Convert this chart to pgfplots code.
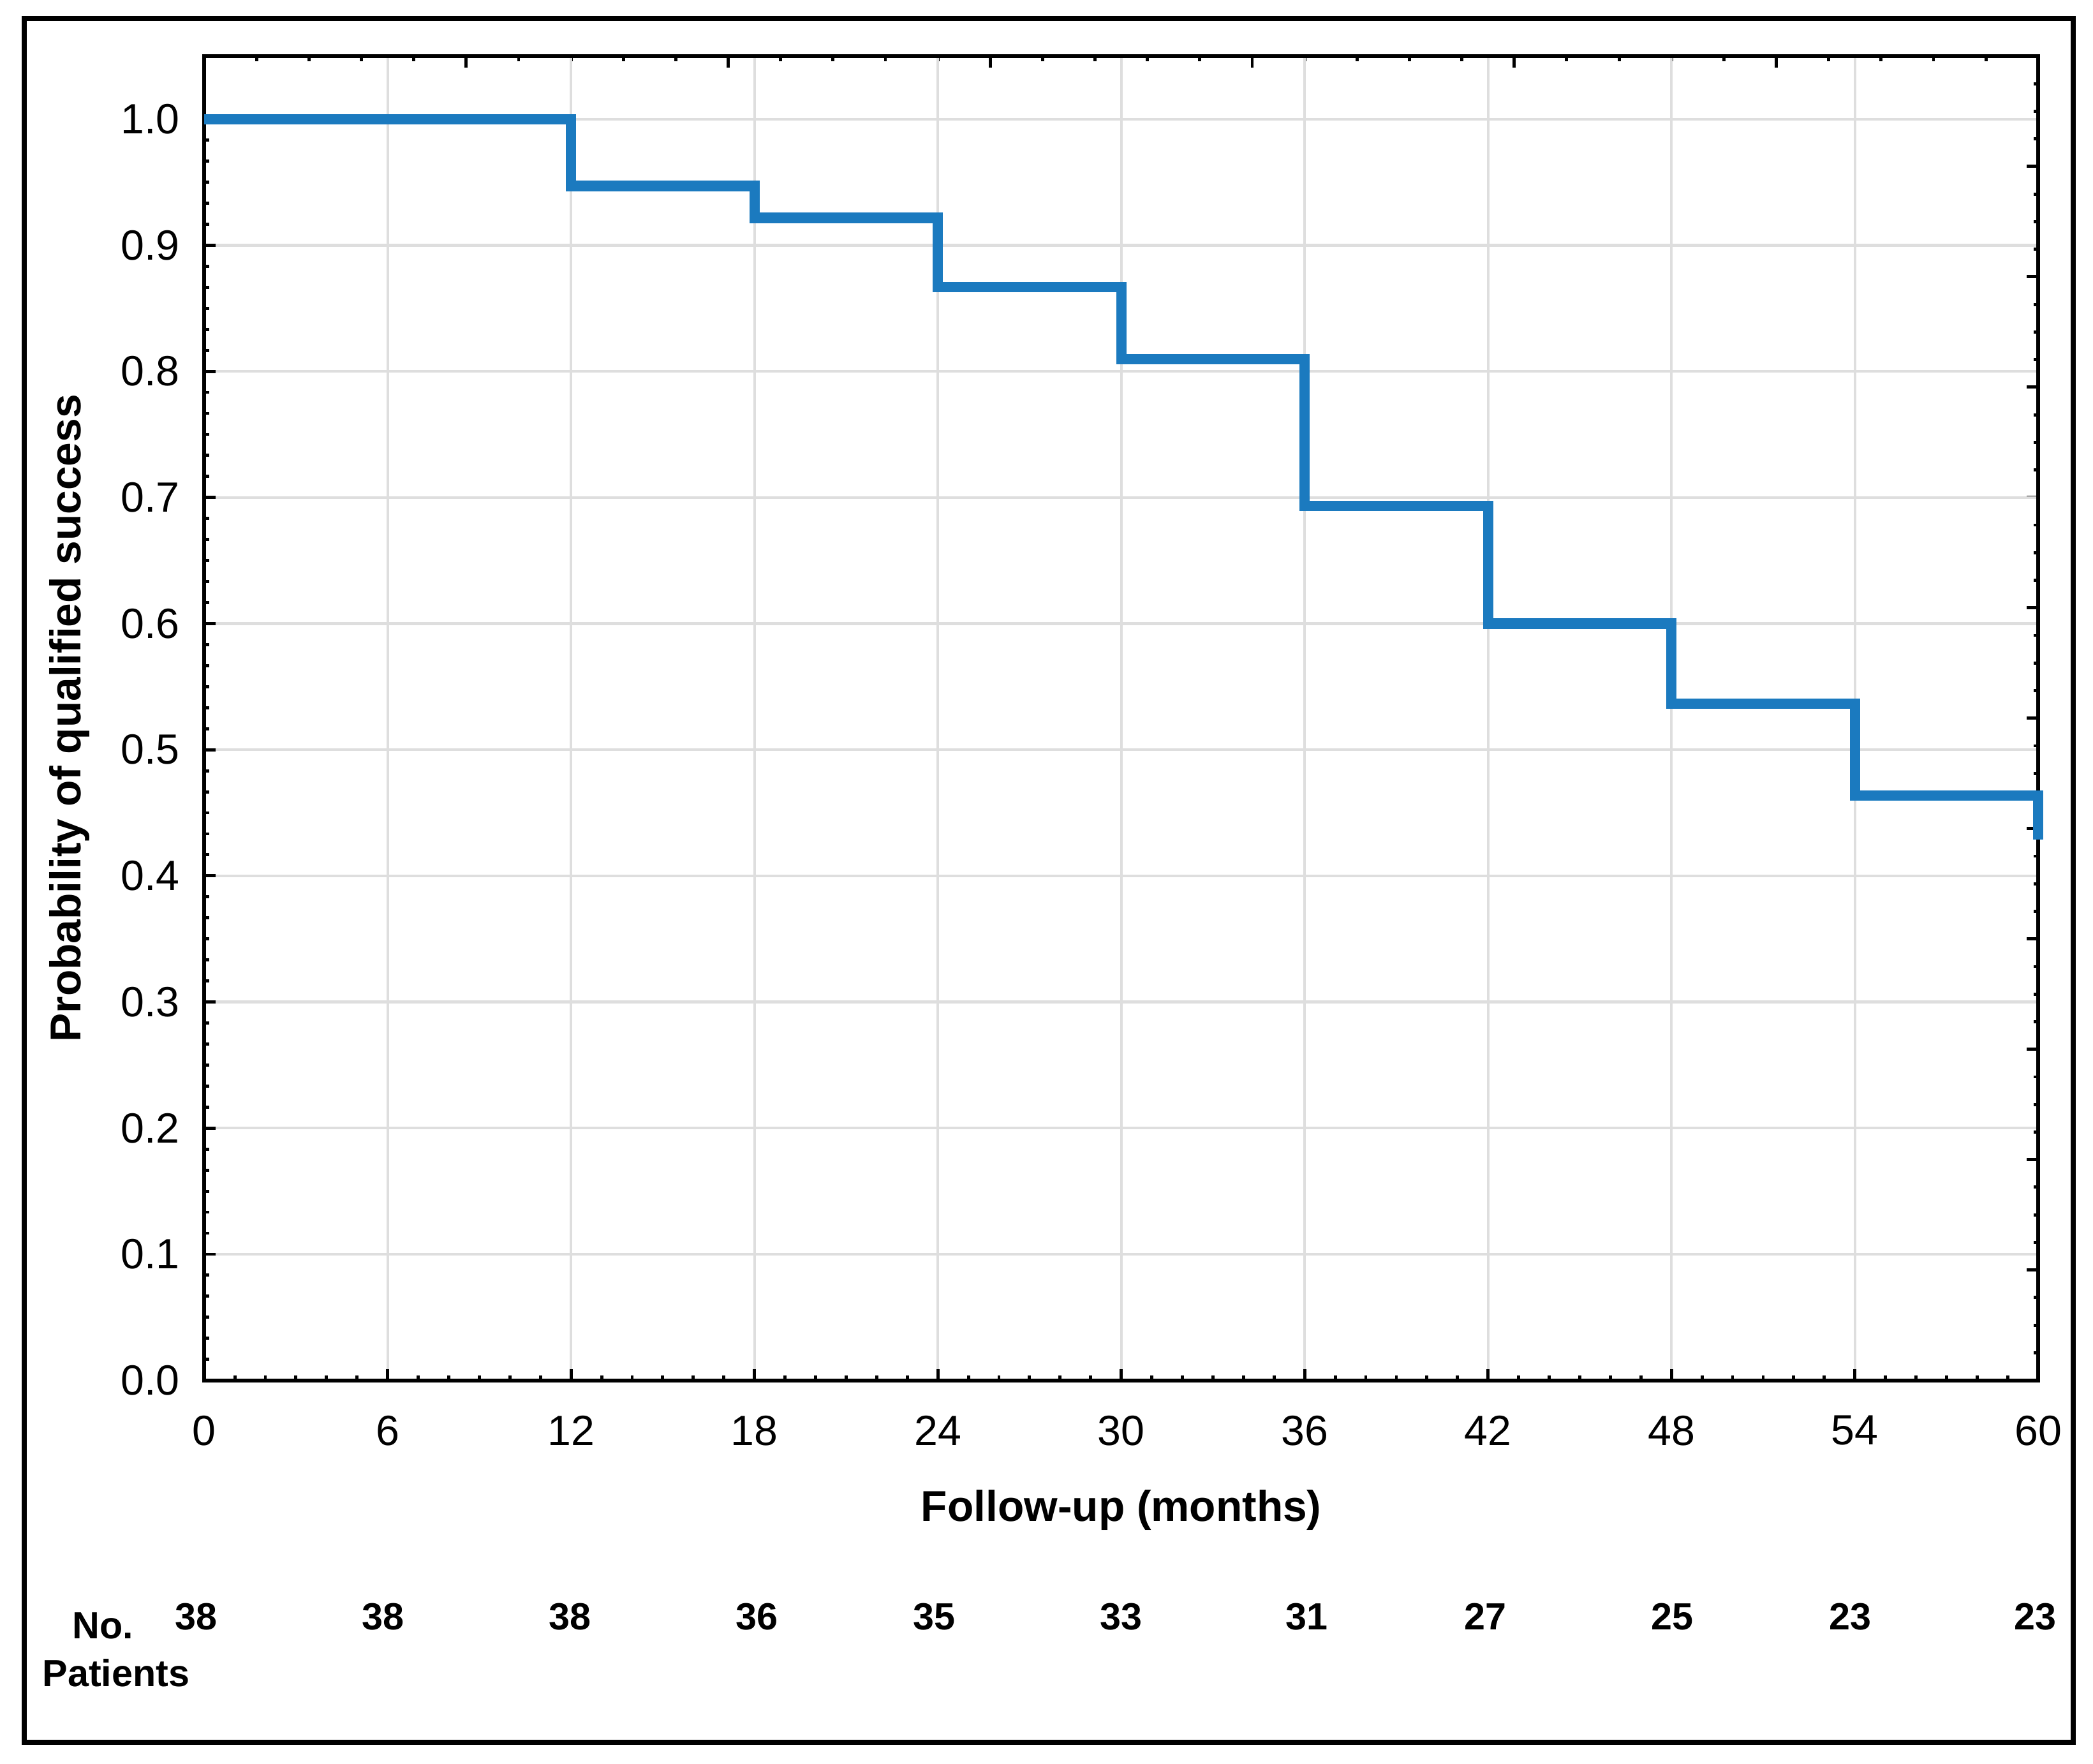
\documentclass[border=0pt]{standalone}
\usepackage{pgfplots}
\pgfplotsset{compat=1.18}
\usepackage{fontspec}
\setmainfont{Liberation Sans}
\definecolor{kmblue}{RGB}{27,122,191}
\definecolor{gridgray}{RGB}{222,222,222}
\begin{document}
\begin{tikzpicture}
\path[use as bounding box] (-45.9pt,-86.1pt) rectangle (424.5pt,310.2pt);
\draw[line width=1.1pt] (-40.5pt,-81.3pt) rectangle (420pt,306pt);
% secondary tick marks on top and right
\begin{axis}[
  at={(0,0)}, anchor=south west,
  scale only axis, width=412.2pt, height=297.6pt,
  xmin=0, xmax=7, ymin=0, ymax=12,
  xtick={0,1,2,3,4,5,6,7}, ytick={0,1,2,3,4,5,6,7,8,9,10,11,12},
  minor x tick num=4, minor y tick num=3,
  xtick pos=right, ytick pos=right,
  xticklabels={}, yticklabels={},
  tick align=inside,
  major tick length=2.6pt, minor tick length=1.1pt,
  every tick/.style={black, line width=0.7pt},
  axis line style={draw=none},
]
\end{axis}
\begin{axis}[
  at={(0,0)}, anchor=south west,
  scale only axis, width=412.2pt, height=297.6pt,
  xmin=0, xmax=60, ymin=0, ymax=1.05,
  clip=false,
  xtick={0,6,12,18,24,30,36,42,48,54,60},
  ytick={0,0.1,0.2,0.3,0.4,0.5,0.6,0.7,0.8,0.9,1.0},
  minor x tick num=5, minor y tick num=5,
  xtick pos=left, ytick pos=left,
  tick align=inside,
  major tick length=2.6pt, minor tick length=1.1pt,
  every tick/.style={black, line width=0.7pt},
  axis line style={black, line width=0.9pt},
  grid=major,
  major grid style={gridgray, line width=0.6pt},
  /pgf/number format/assume math mode=true,
  tick label style={font=\fontsize{9.5}{11}\selectfont, black},
  y tick label style={/pgf/number format/fixed, /pgf/number format/fixed zerofill, /pgf/number format/precision=1, xshift=-2pt},
  x tick label style={yshift=-4.4pt},
  xlabel={Follow-up (months)},
  ylabel={Probability of qualified success},
  xlabel style={at={(axis description cs:0.5,0)}, anchor=center, yshift=-29.1pt, font=\bfseries\fontsize{9.7}{11}\selectfont},
  ylabel style={at={(axis description cs:0,0.5)}, anchor=center, yshift=30.3pt, font=\bfseries\fontsize{9.7}{11}\selectfont},
]
\addplot[const plot, kmblue, line width=2.3pt] coordinates {
  (0,1.0) (12,0.947) (18,0.9217) (24,0.8667) (30,0.8095)
  (36,0.6931) (42,0.600) (48,0.5365) (54,0.4635) (60,0.4286)
};
\addplot[only marks, mark=*, mark size=0pt, mark options={draw=none,fill=none},
  nodes near coords, point meta=explicit symbolic,
  every node near coord/.style={anchor=center, inner sep=0pt, font=\bfseries\fontsize{8.5}{10}\selectfont, black}]
  table[meta=n] {
x y n
-0.26 -0.1874 38
5.85 -0.1874 38
11.97 -0.1874 38
18.07 -0.1874 36
23.89 -0.1874 35
30.0 -0.1874 33
36.07 -0.1874 31
41.92 -0.1874 27
48.03 -0.1874 25
53.85 -0.1874 23
59.91 -0.1874 23
};
\end{axis}
\node[font=\bfseries\fontsize{8.5}{10}\selectfont] at (-22.8pt,-55.2pt) {No.};
\node[font=\bfseries\fontsize{8.5}{10}\selectfont] at (-19.8pt,-65.7pt) {Patients};
\end{tikzpicture}
\end{document}
